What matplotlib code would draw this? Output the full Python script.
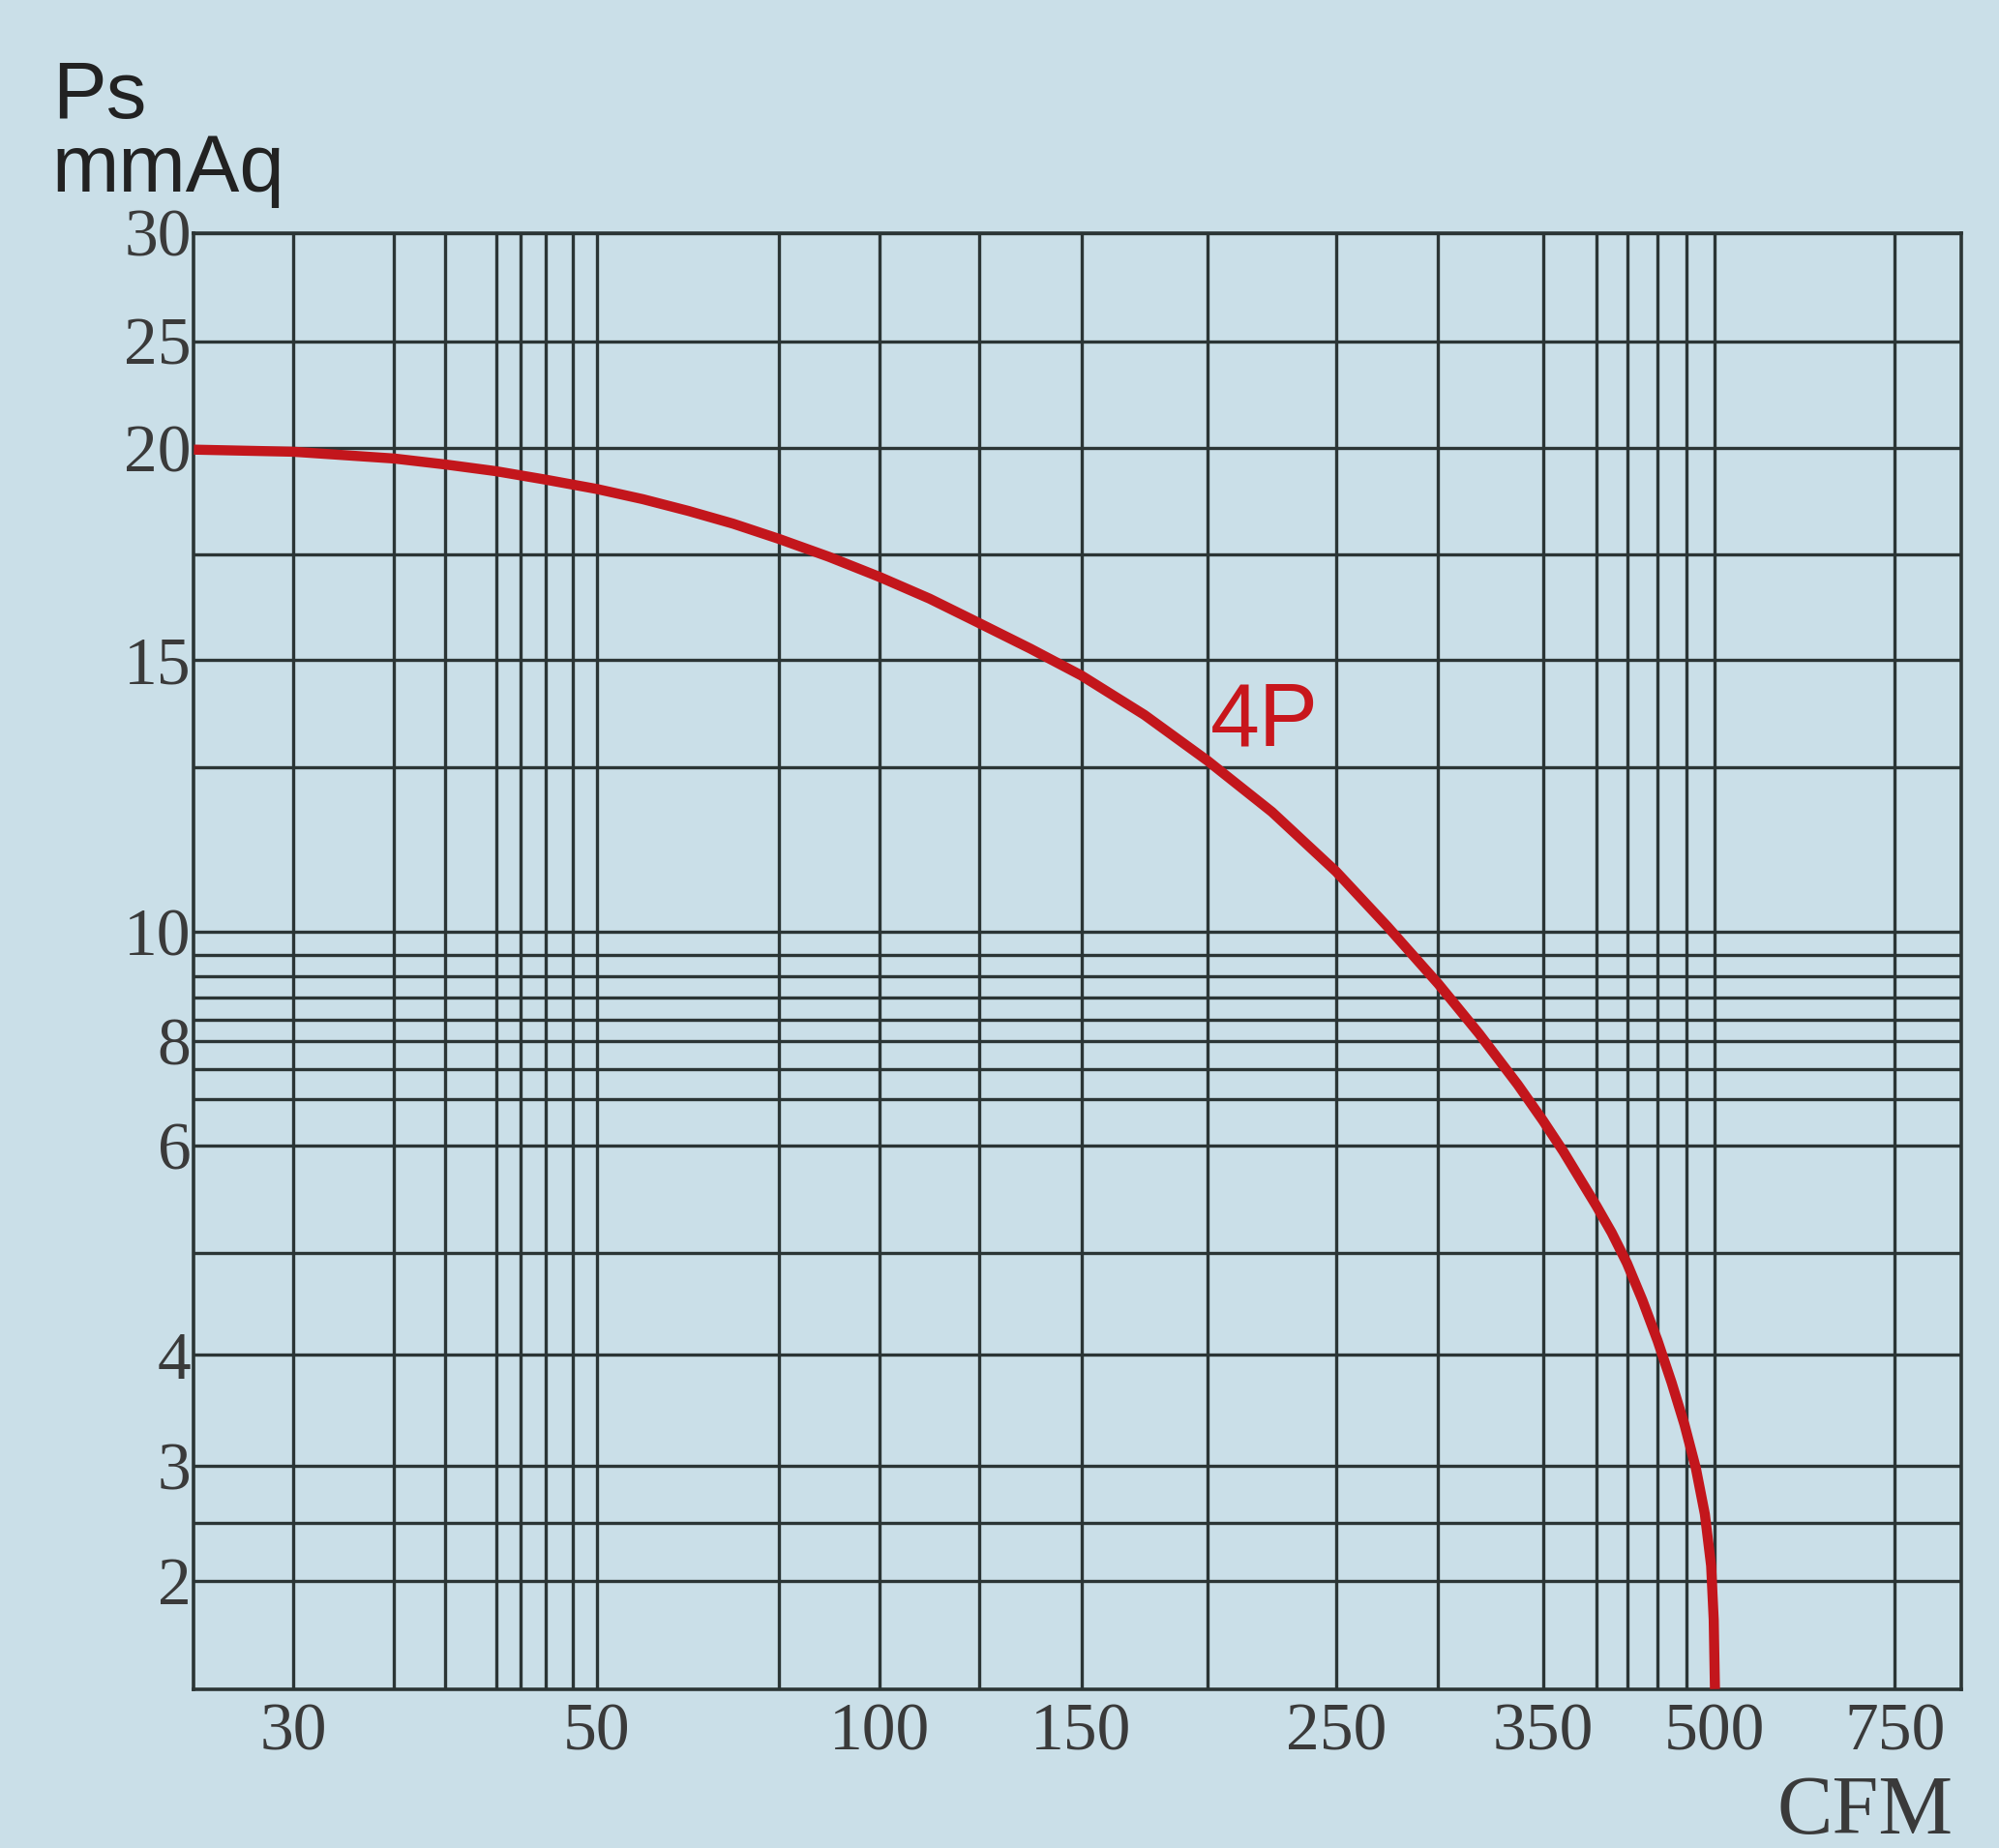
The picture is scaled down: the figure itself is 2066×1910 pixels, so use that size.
import numpy as np
import matplotlib
matplotlib.use("Agg")
import matplotlib.pyplot as plt

# curva 4P: caudal (CFM) contra presion estatica (mmAq)
cfm = [25, 30, 35, 38, 41, 45, 50, 56.3, 62.6, 68.7, 75, 87.3, 100, 112.5, 125,
       137.5, 150, 175, 200, 225, 250, 275, 300, 319.5, 338, 350, 369, 400,
       412.5, 425, 437.5, 450, 462, 473, 483, 491, 496.6, 498.9, 500]
ps = [19.97, 19.92, 19.76, 19.62, 19.46, 19.26, 19.04, 18.8, 18.52, 18.22, 17.86,
      17.44, 16.96, 16.45, 15.87, 15.27, 14.64, 13.72, 12.65, 11.82, 10.91, 10.08,
      9.06, 8.14, 7.24, 6.54, 5.95, 5.44, 5.19, 4.9, 4.54, 4.14, 3.75, 3.37, 2.98,
      2.58, 2.13, 1.82, 1.5]

# lineas de la reticula (valores) y su lugar en el papel
x_grid = [25, 30, 35, 38, 41, 43, 45, 47, 50, 75, 100, 125, 150, 200, 250, 300,
          350, 400, 425, 450, 475, 500, 750, 850]
x_pos = [152, 230, 309, 349, 389, 408, 428, 449, 468, 611, 690, 768, 848, 947,
         1048, 1128, 1210, 1252, 1276, 1300, 1323, 1345, 1486, 1538]
y_grid = [1.5, 2, 2.5, 3, 4, 5, 6, 7, 7.5, 8, 8.4, 8.8, 9.2, 9.6, 10, 12.5, 15,
          17.5, 20, 25, 30]
y_pos = [1325, 1240, 1195, 1150, 1063, 983, 899, 862, 839, 817, 800, 783, 766,
         749, 731, 602, 518, 435, 352, 268, 183]
y_pos = [1325 - p for p in y_pos]

x_ticks = [30, 50, 100, 150, 250, 350, 500, 750]
y_ticks = [2, 3, 4, 6, 8, 10, 15, 20, 25, 30]

bg = '#cadfe8'
grid_c = '#2b3535'

plt.rcParams['font.family'] = 'Liberation Serif'

def fx(v):
    return np.interp(v, x_grid, x_pos)

def fx_inv(p):
    return np.interp(p, x_pos, x_grid)

def fy(v):
    return np.interp(v, y_grid, y_pos)

def fy_inv(p):
    return np.interp(p, y_pos, y_grid)

fig = plt.figure(figsize=(20.66, 19.10), dpi=100, facecolor=bg)
ax = fig.add_axes([0.097, 0.086, 0.884, 0.788])
ax.set_facecolor(bg)
ax.set_xscale('function', functions=(fx, fx_inv))
ax.set_yscale('function', functions=(fy, fy_inv))
ax.set_xlim(25, 850)
ax.set_ylim(1.5, 30)

ax.set_xticks(x_ticks)
ax.set_xticklabels([str(t) for t in x_ticks])
ax.set_xticks(x_grid[1:-1], minor=True)
ax.set_yticks(y_ticks)
ax.set_yticklabels([str(t) for t in y_ticks])
ax.set_yticks(y_grid[1:-1], minor=True)
ax.xaxis.set_minor_formatter(plt.NullFormatter())
ax.yaxis.set_minor_formatter(plt.NullFormatter())

ax.grid(True, which='both', color=grid_c, lw=2.4, zorder=1)
ax.set_axisbelow(True)
for s in ax.spines.values():
    s.set_color(grid_c)
    s.set_linewidth(2.6)
ax.tick_params(which='both', length=0, colors='#3a3a3a', labelsize=50)
ax.tick_params(axis='x', pad=10)
ax.tick_params(axis='y', pad=2)

ax.plot(cfm, ps, color='#c3161c', lw=7.5, zorder=3, solid_joinstyle='round',
        solid_capstyle='butt')
ax.text(201, 13.0, '4P', color='#c8161c', fontsize=66, family='Liberation Sans',
        ha='left', va='baseline')

fig.text(0.026, 0.936, 'Ps', fontsize=60, family='Liberation Sans', color='#222222',
         ha='left', va='baseline')
fig.text(0.026, 0.8965, 'mmAq', fontsize=60, family='Liberation Sans', color='#222222',
         ha='left', va='baseline')
fig.text(0.977, 0.008, 'CFM', fontsize=62, color='#3a3a3a', ha='right', va='baseline')

fig.savefig('out.png', dpi=100, facecolor=bg)
